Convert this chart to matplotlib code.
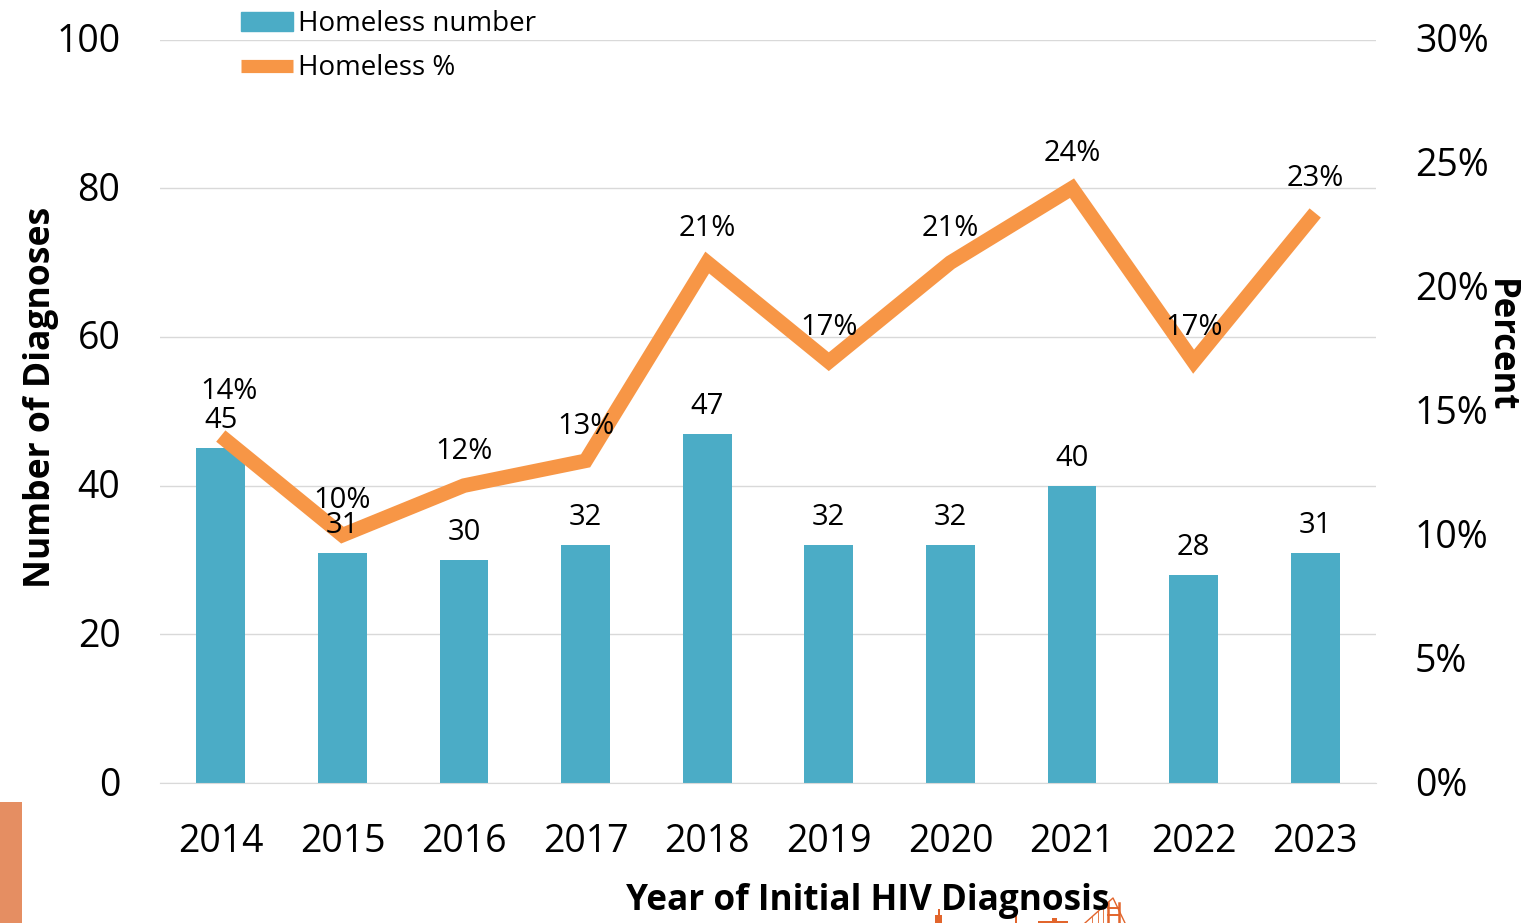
import matplotlib
matplotlib.use('Agg')
import matplotlib.pyplot as plt
from matplotlib.lines import Line2D
from matplotlib.patches import Rectangle
from matplotlib.transforms import ScaledTranslation

plt.rcParams['font.family'] = ['Open Sans', 'DejaVu Sans']

years = ['2014', '2015', '2016', '2017', '2018', '2019', '2020', '2021', '2022', '2023']
homeless_number = [45, 31, 30, 32, 47, 32, 32, 40, 28, 31]
homeless_pct = [14, 10, 12, 13, 21, 17, 21, 24, 17, 23]
left_ticks = [0, 20, 40, 60, 80, 100]
right_ticks = [0, 5, 10, 15, 20, 25, 30]
pct_label_shift = [8, 0, 0, 0, 0, 0, 0, 0, 0, 0]  # pixels, 2014 label sits right of the point
pct_label_lift = [30, 20, 20, 20, 20, 20, 20, 20, 20, 20]

W, H = 1537, 923
ORANGE_LOGO = '#E2652C'
fig = plt.figure(figsize=(W / 100, H / 100), dpi=100)
ax = fig.add_axes([160 / W, 1 - 783 / H, (1376 - 160) / W, (783 - 39.5) / H])
ax2 = ax.twinx()

x = list(range(len(years)))
bars = ax.bar(x, homeless_number, width=0.4, color='#4BACC6', label='Homeless number', zorder=2)
line, = ax2.plot(x, homeless_pct, color='#F79646', lw=10.5, solid_joinstyle='miter',
                 solid_capstyle='butt', label='Homeless %', zorder=3)

ax.set_xlim(-0.5, 9.5)
ax.set_ylim(0, 100)
ax2.set_ylim(0, 30)
ax.set_yticks(left_ticks)
ax2.set_yticks(right_ticks)
ax2.set_yticklabels([f'{t}%' for t in right_ticks])
ax.set_xticks(x)
ax.set_xticklabels(years)
ax.grid(axis='y', color='#D9D9D9', lw=1, zorder=0)
ax.set_axisbelow(True)
ax.tick_params(axis='both', length=0, labelsize=27)
ax.tick_params(axis='x', pad=29)
ax.tick_params(axis='y', pad=28.5)
ax2.tick_params(axis='y', length=0, labelsize=27, pad=28)
for a in (ax, ax2):
    for s in a.spines.values():
        s.set_visible(False)
ax.spines['bottom'].set_visible(True)
ax.spines['bottom'].set_color('#D9D9D9')

# les labels des axes y remontent un peu
up = ScaledTranslation(0, 2 / 100, fig.dpi_scale_trans)
for lab in ax.get_yticklabels() + ax2.get_yticklabels():
    lab.set_transform(lab.get_transform() + up)

# etiquettes: sur ax2 pour passer au-dessus de la ligne
for i, v in enumerate(homeless_number):
    ax2.annotate(str(v), (i, v), xycoords=ax.transData, xytext=(0, 13), textcoords='offset pixels',
                 ha='center', va='bottom', fontsize=21, color='black', zorder=5)
for i, v in enumerate(homeless_pct):
    ax2.annotate(f'{v}%', (i, v), xytext=(pct_label_shift[i], pct_label_lift[i]),
                 textcoords='offset pixels', ha='center', va='bottom', fontsize=21,
                 color='black', zorder=5)

fig.text(41.5 / W, 1 - 397 / H, 'Number of Diagnoses', rotation=90, ha='center', va='center',
         fontsize=25.6, fontweight='bold')
fig.text(1500 / W, 1 - 346 / H, 'Percent', rotation=270, ha='center', va='center',
         fontsize=25, fontweight='bold')
fig.text(868 / W, 1 - 901 / H, 'Year of Initial HIV Diagnosis', ha='center', va='center',
         fontsize=25.3, fontweight='bold', zorder=6)

# legende
bar_handle = Rectangle((0, 0), 1, 1, color='#4BACC6')
line_handle = Line2D([0], [0], color='#F79646', lw=9.5, solid_capstyle='butt')
fig.legend(handles=[bar_handle, line_handle], labels=['Homeless number', 'Homeless %'],
           loc='upper left', bbox_to_anchor=(241 / W, 1 - 10 / H), frameon=False, fontsize=20,
           handlelength=1.87, handleheight=0.65, labelspacing=0.58, handletextpad=0.18,
           borderpad=0, borderaxespad=0)

# bandeau et logo coupes en bas
fig.add_artist(Rectangle((0, 0), 22 / W, (923 - 802) / H, transform=fig.transFigure,
                         color='#E58E62', lw=0))


def px_rect(x0, y0, x1, y1):
    fig.add_artist(Rectangle((x0 / W, 1 - y1 / H), (x1 - x0) / W, (y1 - y0) / H,
                             transform=fig.transFigure, color=ORANGE_LOGO, lw=0))


def px_line(xs, ys, lw=0.8):
    fig.add_artist(Line2D([v / W for v in xs], [1 - v / H for v in ys],
                          transform=fig.transFigure, color=ORANGE_LOGO, lw=lw))


px_rect(935, 915, 942, 923)
px_rect(938, 909, 939.5, 915)
px_rect(1015, 915, 1017, 923)
px_rect(1038, 921, 1068, 923)
px_rect(1052, 918, 1057, 921)
px_line([1085, 1113, 1125], [923, 898, 923], lw=1.0)
px_line([1108, 1108], [903, 923], lw=1.8)
px_line([1119, 1119], [903, 923], lw=1.8)
px_line([1108, 1119], [908, 908], lw=1.4)
px_line([1108, 1119], [915, 915], lw=1.4)
for cx in (1092, 1098, 1103):
    px_line([cx, cx], [923 - (cx - 1085) * 0.9, 923], lw=0.6)

fig.savefig('out.png', dpi=100)
